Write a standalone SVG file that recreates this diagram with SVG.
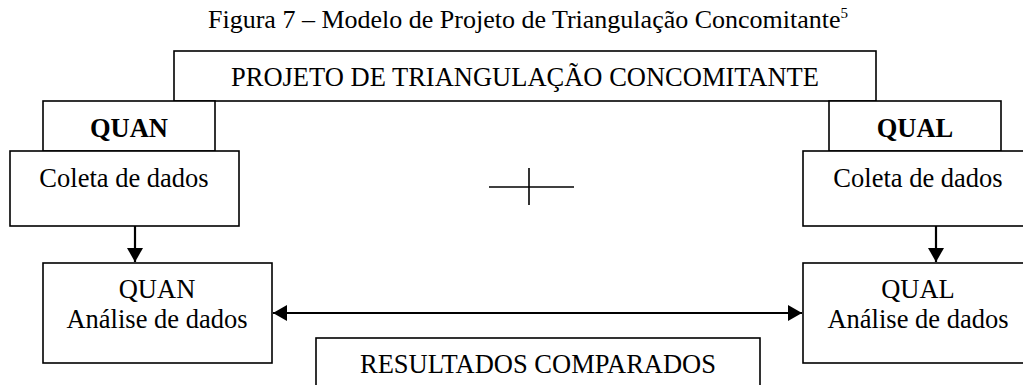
<svg xmlns="http://www.w3.org/2000/svg" width="1023" height="385" viewBox="0 0 1023 385">
  <defs>
    <style>
      .box { fill: #ffffff; stroke: #000000; stroke-width: 1.6; }
      .t { font-family: "Liberation Serif", "Times New Roman", serif; font-size: 26.5px; fill: #000000; text-anchor: middle; }
      .b { font-weight: bold; }
      .edge { stroke: #000000; stroke-width: 2.2; fill: none; }
      .thin { stroke: #000000; stroke-width: 1.6; fill: none; }
    </style>
    <marker id="ah" viewBox="0 0 14 16" refX="14" refY="8" markerWidth="14" markerHeight="16" markerUnits="userSpaceOnUse" orient="auto-start-reverse">
      <path d="M0,0 L14,8 L0,16 Z" fill="#000000"/>
    </marker>
  </defs>
  <rect width="1023" height="385" fill="#ffffff"/>
  <text x="208" y="28" style="font-family:'Liberation Serif','Times New Roman',serif;font-size:26px;fill:#000">Figura 7 – Modelo de Projeto de Triangulação Concomitante<tspan font-size="15" dy="-10">5</tspan></text>

  <g id="projeto">
    <rect class="box" x="174" y="51" width="702" height="50"/>
    <text class="t" x="525" y="86">PROJETO DE TRIANGULAÇÃO CONCOMITANTE</text>
  </g>
  <g id="quan">
    <rect class="box" x="43" y="101" width="172" height="50"/>
    <text class="t b" x="129" y="137">QUAN</text>
  </g>
  <g id="coleta-quan">
    <rect class="box" x="10" y="151" width="229" height="75"/>
    <text class="t" x="124" y="187">Coleta de dados</text>
  </g>
  <g id="analise-quan">
    <rect class="box" x="43" y="263" width="229" height="100"/>
    <text class="t" x="157" y="298">QUAN</text>
    <text class="t" x="157" y="328">Análise de dados</text>
  </g>
  <g id="qual">
    <rect class="box" x="829" y="101" width="172" height="50"/>
    <text class="t b" x="915" y="137">QUAL</text>
  </g>
  <g id="coleta-qual">
    <rect class="box" x="803" y="151" width="240" height="75"/>
    <text class="t" x="918" y="187">Coleta de dados</text>
  </g>
  <g id="analise-qual">
    <rect class="box" x="803" y="263" width="240" height="100"/>
    <text class="t" x="918" y="298">QUAL</text>
    <text class="t" x="918" y="328">Análise de dados</text>
  </g>
  <g id="resultados">
    <rect class="box" x="316" y="338" width="444" height="70"/>
    <text class="t" x="538" y="373">RESULTADOS COMPARADOS</text>
  </g>
  <g id="plus">
    <line class="thin" x1="489" y1="187" x2="574" y2="187"/>
    <line class="thin" x1="529" y1="168" x2="529" y2="205"/>
  </g>
  <g id="connectors">
    <line class="edge" x1="135" y1="226" x2="135" y2="262" marker-end="url(#ah)"/>
    <line class="edge" x1="936" y1="226" x2="936" y2="262" marker-end="url(#ah)"/>
    <line class="edge" x1="273" y1="313" x2="802" y2="313" marker-start="url(#ah)" marker-end="url(#ah)"/>
  </g>
</svg>
